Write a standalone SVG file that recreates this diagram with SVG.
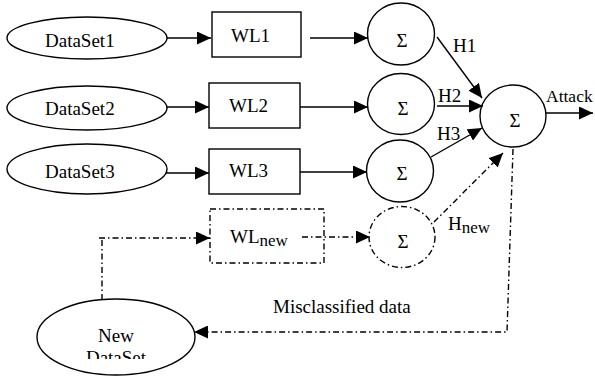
<svg xmlns="http://www.w3.org/2000/svg" width="595" height="377" viewBox="0 0 595 377">
<style>
.s{fill:none;stroke:#000;stroke-width:1.4}
.dd{fill:none;stroke:#000;stroke-width:1.4;stroke-dasharray:6 3 1.5 3}
.t{font-family:"Liberation Serif","Times New Roman",serif;font-size:19px;fill:#000}
.sub{font-size:17px}
</style>
<defs>
<marker id="ah" markerUnits="userSpaceOnUse" markerWidth="14" markerHeight="13" refX="14" refY="6.5" orient="auto">
<path d="M0,0 L14,6.5 L0,13 z" fill="#000"/>
</marker>
<clipPath id="clipNew"><rect x="30" y="290" width="180" height="69"/></clipPath>
</defs>
<rect width="595" height="377" fill="#fff"/>
<g id="ds1"><ellipse class="s" cx="87" cy="38" rx="80" ry="21"/><text class="t" x="45" y="47">DataSet1</text></g>
<g id="ds2"><ellipse class="s" cx="87" cy="108" rx="80" ry="22"/><text class="t" x="45" y="115">DataSet2</text></g>
<g id="ds3"><ellipse class="s" cx="87" cy="169" rx="80" ry="25"/><text class="t" x="45" y="178">DataSet3</text></g>
<g id="wl1"><rect class="s" x="212" y="12" width="89" height="45"/><text class="t" x="231" y="42">WL1</text></g>
<g id="wl2"><rect class="s" x="209" y="83" width="91" height="45"/><text class="t" x="229" y="112">WL2</text></g>
<g id="wl3"><rect class="s" x="209" y="149" width="91" height="45"/><text class="t" x="229" y="177">WL3</text></g>
<g id="wlnew"><rect class="dd" x="210" y="209" width="114" height="54"/><text class="t" x="230" y="243">WL<tspan class="sub" dy="3">new</tspan></text></g>
<g id="s1"><ellipse class="s" cx="401" cy="34" rx="33.5" ry="31"/><text class="t" x="402" y="47" text-anchor="middle">Σ</text></g>
<g id="s2"><ellipse class="s" cx="401" cy="104" rx="33.5" ry="30.5"/><text class="t" x="403" y="115" text-anchor="middle">Σ</text></g>
<g id="s3"><ellipse class="s" cx="400" cy="171" rx="33.5" ry="31"/><text class="t" x="402" y="180" text-anchor="middle">Σ</text></g>
<g id="snew"><ellipse class="dd" cx="402" cy="237" rx="33" ry="30.5"/><text class="t" x="403" y="248" text-anchor="middle">Σ</text></g>
<g id="sfinal"><ellipse class="s" cx="513" cy="116" rx="33" ry="31"/><text class="t" x="515" y="127" text-anchor="middle">Σ</text></g>
<g id="newds"><ellipse class="s" cx="116" cy="337" rx="79" ry="38"/>
<g clip-path="url(#clipNew)"><text class="t" x="116" y="342" text-anchor="middle">New</text><text class="t" x="116" y="364" text-anchor="middle">DataSet</text></g></g>
<g id="connectors">
<line class="s" x1="167" y1="38" x2="211" y2="38" marker-end="url(#ah)"/>
<line class="s" x1="166" y1="107" x2="209" y2="107" marker-end="url(#ah)"/>
<line class="s" x1="166" y1="173" x2="209" y2="173" marker-end="url(#ah)"/>
<line class="s" x1="310" y1="38" x2="368" y2="38" marker-end="url(#ah)"/>
<line class="s" x1="300" y1="107" x2="368" y2="107" marker-end="url(#ah)"/>
<line class="s" x1="300" y1="172" x2="367" y2="172" marker-end="url(#ah)"/>
<line class="s" x1="437" y1="37" x2="482" y2="98" marker-end="url(#ah)"/>
<line class="s" x1="437" y1="106" x2="483" y2="106" marker-end="url(#ah)"/>
<line class="s" x1="431" y1="157" x2="482" y2="128" marker-end="url(#ah)"/>
<line class="s" x1="546" y1="113" x2="593" y2="113" marker-end="url(#ah)"/>
<line class="dd" x1="434" y1="222" x2="503" y2="153" marker-end="url(#ah)"/>
<polyline class="dd" points="513,149 507,332 194,332" marker-end="url(#ah)"/>
<line class="dd" x1="102" y1="300" x2="102" y2="238"/>
<line class="dd" x1="99" y1="238" x2="210" y2="238" marker-end="url(#ah)"/>
<line class="dd" x1="302" y1="237" x2="370" y2="237" marker-end="url(#ah)"/>
<text class="t" x="453" y="52">H1</text>
<text class="t" x="438" y="102">H2</text>
<text class="t" x="437" y="140">H3</text>
<text class="t" x="448" y="230">H<tspan class="sub" dy="3">new</tspan></text>
<text class="t" x="546" y="102" style="font-size:17.5px">Attack</text>
<text class="t" x="273" y="313">Misclassified data</text>
</g>
</svg>
